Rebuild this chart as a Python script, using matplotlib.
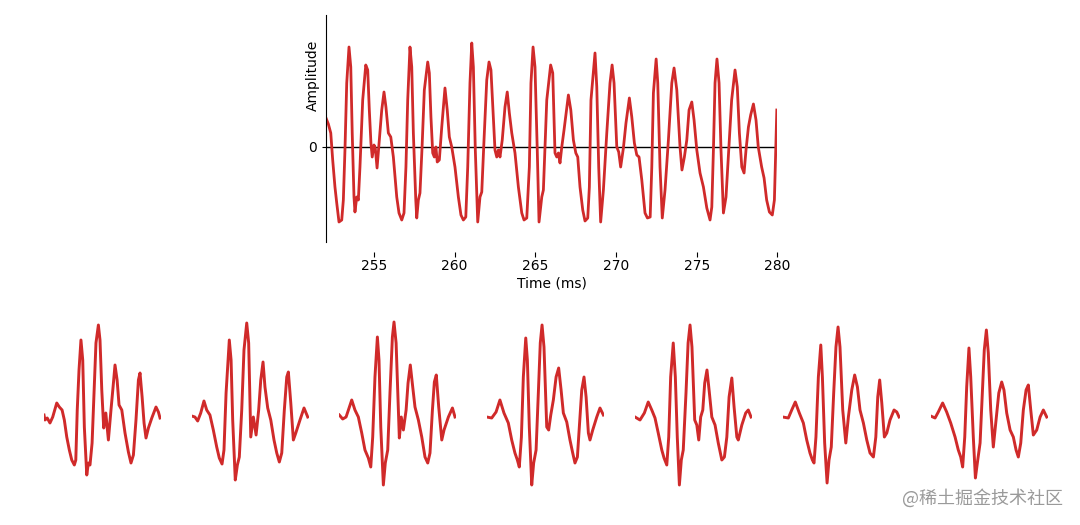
import numpy as np
import matplotlib
matplotlib.use('Agg')
from matplotlib import pyplot as plt

# speech waveform (time in ms, amplitude in arbitrary units)
t_ms = [252.00, 252.17, 252.32, 252.44, 252.58, 252.69, 252.83, 253.00, 253.10, 253.20,
        253.31, 253.45, 253.56, 253.65, 253.76, 253.82, 253.93, 254.03, 254.13, 254.30,
        254.49, 254.61, 254.71, 254.81, 254.89, 255.00, 255.08, 255.19, 255.33, 255.48,
        255.62, 255.74, 255.89, 256.04, 256.20, 256.41, 256.55, 256.72, 256.86, 256.98,
        257.09, 257.23, 257.34, 257.44, 257.59, 257.65, 257.75, 257.85, 257.98, 258.12,
        258.33, 258.43, 258.53, 258.64, 258.74, 258.84, 258.92, 259.05, 259.20, 259.40,
        259.54, 259.67, 259.82, 260.02, 260.23, 260.39, 260.54, 260.69, 260.81, 260.95,
        261.06, 261.16, 261.28, 261.43, 261.57, 261.68, 261.82, 261.99, 262.13, 262.25,
        262.40, 262.50, 262.61, 262.71, 262.81, 262.95, 263.12, 263.26, 263.39, 263.54,
        263.74, 263.95, 264.16, 264.30, 264.47, 264.63, 264.73, 264.86, 264.98, 265.12,
        265.23, 265.40, 265.50, 265.71, 265.95, 266.08, 266.22, 266.33, 266.43, 266.53,
        266.64, 266.78, 267.05, 267.20, 267.36, 267.51, 267.63, 267.77, 267.94, 268.08,
        268.25, 268.35, 268.45, 268.70, 268.81, 268.93, 269.05, 269.22, 269.43, 269.63,
        269.76, 269.88, 270.05, 270.17, 270.29, 270.46, 270.62, 270.83, 270.98, 271.14,
        271.29, 271.43, 271.60, 271.80, 271.95, 272.12, 272.22, 272.32, 272.49, 272.59,
        272.73, 272.87, 273.04, 273.25, 273.46, 273.60, 273.77, 273.97, 274.09, 274.24,
        274.39, 274.53, 274.70, 274.84, 275.01, 275.21, 275.42, 275.63, 275.83, 275.94,
        276.04, 276.14, 276.26, 276.39, 276.51, 276.66, 276.82, 276.99, 277.17, 277.38,
        277.52, 277.65, 277.80, 277.94, 278.06, 278.21, 278.35, 278.52, 278.68, 278.82,
        279.03, 279.18, 279.34, 279.51, 279.69, 279.82, 279.97]
amp = [0.30, 0.23, 0.14, -0.13, -0.40, -0.56, -0.75, -0.73, -0.53, -0.03,
       0.64, 1.00, 0.80, 0.14, -0.50, -0.65, -0.50, -0.53, -0.20, 0.47,
       0.82, 0.77, 0.37, 0.04, -0.10, 0.02, -0.01, -0.21, 0.07, 0.37,
       0.55, 0.40, 0.14, 0.10, -0.10, -0.50, -0.66, -0.73, -0.66, -0.20,
       0.47, 1.00, 0.80, 0.14, -0.53, -0.71, -0.53, -0.46, 0.00, 0.57,
       0.85, 0.74, 0.30, -0.06, -0.10, 0.00, -0.15, -0.13, 0.20, 0.59,
       0.37, 0.10, 0.00, -0.20, -0.50, -0.68, -0.73, -0.70, -0.20, 0.64,
       1.04, 0.80, -0.03, -0.75, -0.50, -0.45, 0.07, 0.67, 0.85, 0.77,
       0.30, -0.03, -0.10, -0.03, -0.10, 0.07, 0.40, 0.55, 0.34, 0.14,
       -0.06, -0.40, -0.66, -0.73, -0.71, -0.20, 0.64, 1.00, 0.80, -0.03,
       -0.75, -0.50, -0.43, 0.47, 0.82, 0.74, -0.06, -0.10, -0.06, -0.16,
       0.00, 0.17, 0.52, 0.37, 0.07, -0.06, -0.10, -0.40, -0.63, -0.74,
       -0.71, -0.40, 0.47, 0.94, 0.60, -0.20, -0.75, -0.43, 0.14, 0.64,
       0.82, 0.64, 0.00, -0.05, -0.20, -0.01, 0.24, 0.49, 0.30, 0.04,
       -0.08, -0.10, -0.33, -0.66, -0.71, -0.70, -0.20, 0.54, 0.88, 0.64,
       -0.20, -0.71, -0.43, 0.07, 0.64, 0.79, 0.57, 0.00, -0.23, -0.10,
       0.07, 0.37, 0.45, 0.27, -0.03, -0.26, -0.40, -0.61, -0.73, -0.60,
       -0.03, 0.64, 0.88, 0.64, -0.03, -0.66, -0.50, -0.03, 0.47, 0.77,
       0.60, 0.14, -0.20, -0.26, -0.03, 0.20, 0.32, 0.43, 0.27, 0.00,
       -0.20, -0.31, -0.53, -0.65, -0.68, -0.53, 0.37]

# windowed frames (bottom row), time from frame start in ms
f1_t = [0.00, 0.06, 0.20, 0.37, 0.54, 0.79, 0.95, 1.12, 1.26, 1.41, 1.57, 1.72, 1.88, 1.97,
        2.06, 2.17, 2.29, 2.40, 2.50, 2.65, 2.75, 2.85, 2.98, 3.10, 3.22, 3.37, 3.47, 3.58,
        3.70, 3.83, 3.99, 4.15, 4.28, 4.40, 4.53, 4.65, 4.82, 5.02, 5.23, 5.39, 5.54, 5.70,
        5.85, 5.95, 6.08, 6.20, 6.32, 6.47, 6.68, 6.94, 7.09, 7.19]
f1_a = [0.02, -0.03, -0.01, -0.06, 0.00, 0.14, 0.10, 0.07, -0.03, -0.20, -0.33, -0.43, -0.48, -0.43,
        0.07, 0.47, 0.77, 0.57, -0.10, -0.58, -0.46, -0.48, -0.26, 0.24, 0.74, 0.92, 0.77, 0.27,
        -0.11, 0.04, -0.23, 0.07, 0.30, 0.52, 0.37, 0.12, 0.07, -0.16, -0.35, -0.46, -0.38, -0.03,
        0.37, 0.44, 0.20, -0.06, -0.21, -0.11, -0.01, 0.10, 0.05, -0.01]

f2_t = [0.00, 0.20, 0.37, 0.56, 0.76, 0.93, 1.13, 1.34, 1.55, 1.71, 1.88, 2.00, 2.13, 2.33,
        2.44, 2.54, 2.70, 2.83, 2.95, 3.10, 3.24, 3.41, 3.53, 3.66, 3.82, 3.99, 4.15, 4.28,
        4.42, 4.54, 4.71, 4.90, 5.10, 5.27, 5.43, 5.58, 5.74, 5.89, 5.99, 6.14, 6.30, 6.45,
        6.71, 6.96, 7.19]
f2_a = [0.01, 0.00, -0.04, 0.04, 0.16, 0.07, 0.02, -0.13, -0.30, -0.41, -0.47, -0.33, 0.24, 0.77,
        0.57, -0.03, -0.63, -0.48, -0.40, 0.07, 0.67, 0.94, 0.74, -0.20, 0.00, -0.18, 0.07, 0.37,
        0.55, 0.30, 0.09, -0.03, -0.23, -0.36, -0.45, -0.36, 0.07, 0.40, 0.45, 0.14, -0.23, -0.16,
        -0.03, 0.09, 0.00]

f3_t = [0.00, 0.21, 0.42, 0.77, 0.97, 1.18, 1.39, 1.59, 1.80, 1.95, 2.07, 2.21, 2.36, 2.46,
        2.57, 2.73, 2.85, 3.00, 3.14, 3.29, 3.39, 3.52, 3.72, 3.84, 3.97, 4.14, 4.26, 4.40,
        4.55, 4.69, 4.90, 5.11, 5.31, 5.48, 5.62, 5.77, 5.89, 6.01, 6.16, 6.35, 6.49, 6.76,
        7.01, 7.17]
f3_a = [0.02, -0.02, 0.00, 0.17, 0.07, 0.00, -0.16, -0.33, -0.41, -0.50, -0.20, 0.40, 0.80, 0.57,
        -0.10, -0.68, -0.46, -0.33, 0.24, 0.80, 0.95, 0.74, -0.21, 0.00, -0.13, 0.07, 0.34, 0.52,
        0.30, 0.10, -0.03, -0.20, -0.40, -0.46, -0.36, 0.07, 0.35, 0.42, 0.10, -0.23, -0.13, 0.00,
        0.09, 0.00]

f4_t = [0.00, 0.31, 0.58, 0.82, 1.07, 1.34, 1.55, 1.75, 1.90, 2.02, 2.15, 2.27, 2.42, 2.52,
        2.64, 2.79, 2.91, 3.06, 3.20, 3.32, 3.43, 3.55, 3.72, 3.84, 3.97, 4.13, 4.30, 4.46,
        4.61, 4.75, 4.96, 5.16, 5.33, 5.47, 5.62, 5.74, 5.89, 6.03, 6.16, 6.30, 6.40, 6.57,
        6.82, 7.02, 7.23]
f4_a = [0.00, -0.01, 0.05, 0.17, 0.04, -0.06, -0.23, -0.36, -0.43, -0.50, -0.20, 0.40, 0.79, 0.57,
        -0.10, -0.68, -0.46, -0.33, 0.24, 0.74, 0.92, 0.70, -0.10, -0.13, 0.02, 0.17, 0.40, 0.49,
        0.27, 0.04, -0.05, -0.23, -0.36, -0.46, -0.40, -0.10, 0.27, 0.40, 0.20, -0.16, -0.23, -0.13,
        0.00, 0.09, 0.02]

f5_t = [0.00, 0.31, 0.58, 0.82, 1.04, 1.24, 1.44, 1.66, 1.80, 1.97, 2.09, 2.21, 2.37, 2.50,
        2.62, 2.75, 2.87, 2.99, 3.16, 3.29, 3.41, 3.53, 3.70, 3.83, 3.95, 4.07, 4.20, 4.32,
        4.46, 4.61, 4.76, 4.96, 5.16, 5.38, 5.54, 5.69, 5.83, 6.00, 6.14, 6.31, 6.40, 6.62,
        6.86, 7.02, 7.19]
f5_a = [0.00, -0.03, 0.04, 0.15, 0.07, -0.01, -0.16, -0.33, -0.41, -0.48, -0.20, 0.40, 0.74, 0.40,
        -0.20, -0.68, -0.43, -0.33, 0.24, 0.74, 0.92, 0.70, -0.03, -0.08, -0.23, 0.00, 0.07, 0.34,
        0.47, 0.24, 0.00, -0.08, -0.26, -0.43, -0.40, -0.20, 0.20, 0.39, 0.10, -0.20, -0.23, -0.08,
        0.04, 0.07, 0.00]

f6_t = [0.00, 0.35, 0.56, 0.78, 1.03, 1.28, 1.49, 1.69, 1.84, 1.94, 2.06, 2.21, 2.36, 2.46,
        2.60, 2.75, 2.87, 3.01, 3.16, 3.30, 3.43, 3.55, 3.72, 3.91, 4.07, 4.28, 4.46, 4.63,
        4.79, 5.00, 5.21, 5.41, 5.62, 5.77, 5.89, 6.01, 6.14, 6.30, 6.45, 6.65, 6.90, 7.07,
        7.21]
f6_a = [0.00, -0.01, 0.07, 0.15, 0.04, -0.06, -0.23, -0.36, -0.43, -0.46, -0.20, 0.40, 0.72, 0.40,
        -0.26, -0.66, -0.43, -0.30, 0.24, 0.70, 0.90, 0.70, 0.07, -0.26, 0.00, 0.27, 0.42, 0.30,
        0.07, -0.06, -0.23, -0.36, -0.40, -0.20, 0.20, 0.37, 0.14, -0.20, -0.16, -0.03, 0.07, 0.05,
        0.00]

f7_t = [0.00, 0.27, 0.47, 0.74, 0.99, 1.24, 1.51, 1.71, 1.86, 1.98, 2.11, 2.23, 2.37, 2.48,
        2.64, 2.77, 2.89, 3.06, 3.20, 3.32, 3.45, 3.57, 3.72, 3.88, 4.05, 4.22, 4.40, 4.54,
        4.71, 4.92, 5.12, 5.29, 5.43, 5.58, 5.74, 5.91, 6.05, 6.20, 6.36, 6.57, 6.78, 6.98,
        7.19]
f7_a = [0.01, -0.01, 0.05, 0.14, 0.05, -0.06, -0.20, -0.33, -0.40, -0.50, -0.20, 0.30, 0.69, 0.40,
        -0.20, -0.61, -0.46, -0.26, 0.24, 0.67, 0.87, 0.64, 0.07, -0.30, -0.03, 0.24, 0.35, 0.27,
        0.04, -0.13, -0.20, -0.33, -0.40, -0.26, 0.07, 0.27, 0.32, 0.07, -0.18, -0.13, 0.00, 0.07,
        0.00]

frames = [(f1_t, f1_a), (f2_t, f2_a), (f3_t, f3_a), (f4_t, f4_a),
          (f5_t, f5_a), (f6_t, f6_a), (f7_t, f7_a)]
frame_left_px = [44, 191.7, 339.3, 486.7, 635, 782.7, 930.7]

red = '#d02a2a'
W, H = 1080, 525
fig = plt.figure(figsize=(W / 100, H / 100), dpi=100)


def px_axes(x0, y0, x1, y1):
    # axes from pixel box (top-left origin)
    return fig.add_axes([x0 / W, 1 - y1 / H, (x1 - x0) / W, (y1 - y0) / H])


# top: waveform
ax = px_axes(325.6, 15, 777.3, 242)
ax.plot(t_ms, amp, color=red, lw=2.0, solid_joinstyle='round')
ax.axhline(0, color='k', lw=1.0, zorder=0)
ax.set_xlim(252, 280)
ax.set_ylim(-0.95, 1.32)
ax.set_xticks([255, 260, 265, 270, 275, 280])
ax.set_yticks([0])
ax.tick_params(axis='x', length=3.5, width=0.8, pad=1.5, labelsize=10)
ax.tick_params(axis='y', length=3, width=0.8, pad=3, labelsize=10)
for s in ['top', 'right']:
    ax.spines[s].set_visible(False)
ax.spines['bottom'].set_position(('outward', 7.5))
ax.spines['bottom'].set_visible(False)
ax.set_xlabel('Time (ms)', fontsize=10, labelpad=2)
ax.set_ylabel('Amplitude', fontsize=10)
ax.yaxis.set_label_coords(-0.012, 0.735)

# bottom: windowed frames
for (ft, fa), x0 in zip(frames, frame_left_px):
    a = px_axes(x0, 317, x0 + 117, 492)
    a.plot(ft, fa, color=red, lw=2.1, solid_joinstyle='round')
    a.set_xlim(0, 7.25)
    a.set_ylim(-0.75, 1.0)
    a.axis('off')

fig.text(1063 / W, 1 - 498 / H, '@稀土掘金技术社区', ha='right', va='center',
         fontsize=13, color='#9a9a9a', family=['Noto Sans CJK SC', 'DejaVu Sans'])

fig.savefig('out.png', dpi=100)
